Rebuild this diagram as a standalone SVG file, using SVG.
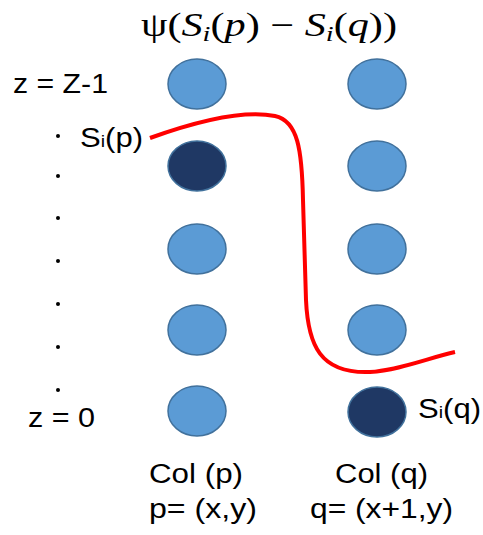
<svg xmlns="http://www.w3.org/2000/svg" width="483" height="535" viewBox="0 0 483 535">
<style>
.light{fill:#5B9BD5;stroke:#41719C;stroke-width:1.5}
.dark{fill:#1F3864;stroke:#41719C;stroke-width:1.5}
.lbl{font-family:"Liberation Sans",Arial,sans-serif;font-size:27px;fill:#000}
.math{font-family:"Liberation Serif","DejaVu Serif",serif;font-size:33px;fill:#000}
.dot{fill:#000}
</style>
<rect width="483" height="535" fill="#fff"/>
<text class="math" x="141" y="36" textLength="256" lengthAdjust="spacingAndGlyphs">ψ(<tspan font-style="italic">S</tspan><tspan font-style="italic" font-size="22" dy="5">i</tspan><tspan dy="-5">(</tspan><tspan font-style="italic">p</tspan>) − <tspan font-style="italic">S</tspan><tspan font-style="italic" font-size="22" dy="5">i</tspan><tspan dy="-5">(</tspan><tspan font-style="italic">q</tspan>))</text>
<g id="col-p">
<g id="p4"><ellipse class="light" cx="197" cy="84" rx="29" ry="25"/></g>
<g id="p3"><ellipse class="dark" cx="197" cy="166" rx="29" ry="25"/></g>
<g id="p2"><ellipse class="light" cx="197" cy="249" rx="29" ry="25"/></g>
<g id="p1"><ellipse class="light" cx="197" cy="330" rx="29" ry="25"/></g>
<g id="p0"><ellipse class="light" cx="197" cy="411" rx="29" ry="25"/></g>
</g>
<g id="col-q">
<g id="q4"><ellipse class="light" cx="377" cy="84" rx="29" ry="25"/></g>
<g id="q3"><ellipse class="light" cx="377" cy="166" rx="29" ry="25"/></g>
<g id="q2"><ellipse class="light" cx="377" cy="249" rx="29" ry="25"/></g>
<g id="q1"><ellipse class="light" cx="377" cy="330" rx="29" ry="25"/></g>
<g id="q0"><ellipse class="dark" cx="377" cy="412" rx="29" ry="25"/></g>
</g>
<g id="connectors">
<path d="M150,138 C200,120 245,110 275,116 C298,121 302,150 303,200 L306,300 C308,345 320,374 370,372 C400,370 428,358 455,352" fill="none" stroke="#FF0000" stroke-width="4"/>
</g>
<g id="dots">
<circle class="dot" cx="58" cy="136" r="2"/>
<circle class="dot" cx="58" cy="176" r="2"/>
<circle class="dot" cx="58" cy="218" r="2"/>
<circle class="dot" cx="58" cy="261" r="2"/>
<circle class="dot" cx="58" cy="304" r="2"/>
<circle class="dot" cx="58" cy="347" r="2"/>
<circle class="dot" cx="58" cy="390" r="2"/>
</g>
<g id="labels">
<text class="lbl" x="13" y="93" textLength="95" lengthAdjust="spacingAndGlyphs">z = Z-1</text>
<text class="lbl" x="80" y="147" font-size="29" textLength="63" lengthAdjust="spacingAndGlyphs">S<tspan font-size="17">i</tspan>(p)</text>
<text class="lbl" x="28" y="427" textLength="67" lengthAdjust="spacingAndGlyphs">z = 0</text>
<text class="lbl" x="418" y="418" font-size="29" textLength="63" lengthAdjust="spacingAndGlyphs">S<tspan font-size="17">i</tspan>(q)</text>
<text class="lbl" x="149" y="483" textLength="94" lengthAdjust="spacingAndGlyphs">Col (p)</text>
<text class="lbl" x="149" y="518" textLength="108" lengthAdjust="spacingAndGlyphs">p= (x,y)</text>
<text class="lbl" x="335" y="483" textLength="93" lengthAdjust="spacingAndGlyphs">Col (q)</text>
<text class="lbl" x="310" y="518" textLength="143" lengthAdjust="spacingAndGlyphs">q= (x+1,y)</text>
</g>
</svg>
